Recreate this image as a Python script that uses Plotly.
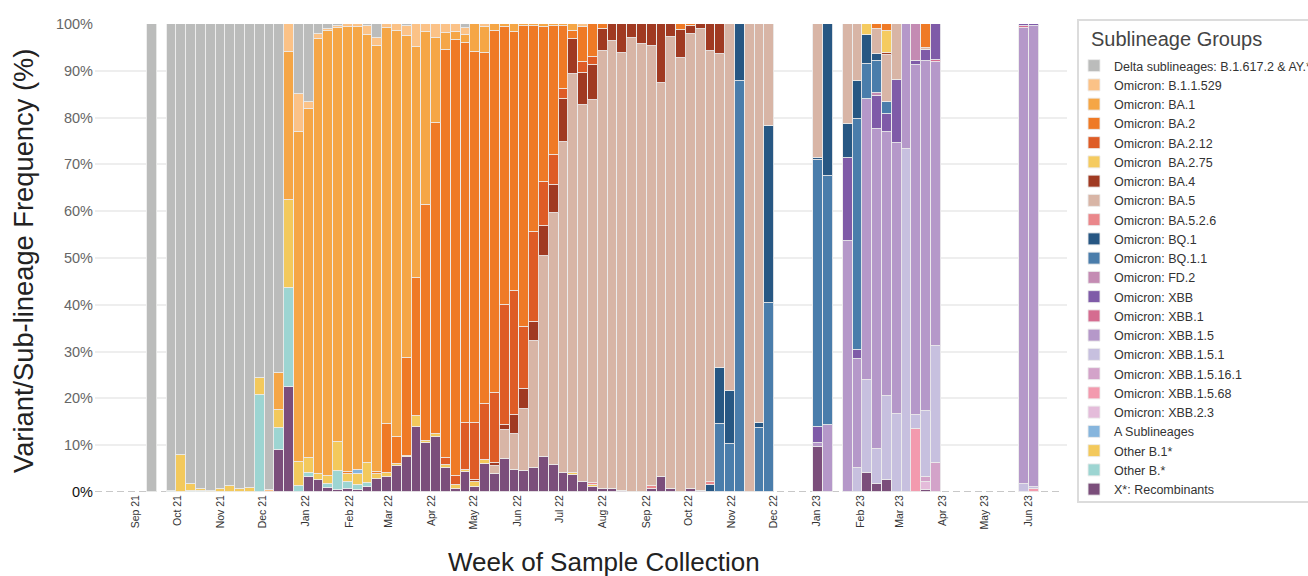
import plotly.graph_objects as go
from datetime import datetime, timedelta

# ---------------- data ----------------
weeks = [
    "2021-09-13",
    "2021-09-27", "2021-10-04", "2021-10-11", "2021-10-18", "2021-10-25", "2021-11-01", "2021-11-08",
    "2021-11-15", "2021-11-22", "2021-11-29", "2021-12-06", "2021-12-13", "2021-12-20", "2021-12-27",
    "2022-01-03", "2022-01-10", "2022-01-17", "2022-01-24", "2022-01-31", "2022-02-07", "2022-02-14",
    "2022-02-21", "2022-02-28", "2022-03-07", "2022-03-14", "2022-03-21", "2022-03-28", "2022-04-04",
    "2022-04-11", "2022-04-18", "2022-04-25", "2022-05-02", "2022-05-09", "2022-05-16", "2022-05-23",
    "2022-05-30", "2022-06-06", "2022-06-13", "2022-06-20", "2022-06-27", "2022-07-04", "2022-07-11",
    "2022-07-18", "2022-07-25", "2022-08-01", "2022-08-08", "2022-08-15", "2022-08-22", "2022-08-29",
    "2022-09-05", "2022-09-12", "2022-09-19", "2022-09-26", "2022-10-03", "2022-10-10", "2022-10-17",
    "2022-10-24", "2022-10-31", "2022-11-07", "2022-11-14", "2022-11-21", "2022-11-28",
    "2023-01-02", "2023-01-09", "2023-01-23", "2023-01-30", "2023-02-06", "2023-02-13", "2023-02-20",
    "2023-02-27", "2023-03-06", "2023-03-13", "2023-03-20", "2023-03-27", "2023-05-29", "2023-06-05",
]

delta = [100, 99.7, 92.1, 98.3, 99.3, 99.7, 99.4, 98.8, 99.4, 99.2,
         75.6, 99.5, 74.5, 0, 14.9, 16.7, 2.1, 1.0, 0.5, 0,
         0, 0.4, 3.0, 0, 0, 0.4, 0, 0, 0, 0,
         0, 0.9, 0, 0, 0, 0, 0, 0, 0, 0,
         0, 0, 0, 0, 0, 0, 0, 0, 0, 0,
         0, 0, 0, 0, 0, 0, 0, 0, 0, 0,
         0, 0, 0, 0, 0, 0, 0, 0, 0, 0,
         0, 0, 0, 0, 0, 0, 0]
b_1_1_529 = [0, 0, 0, 0, 0, 0, 0, 0, 0, 0,
             0, 0.5, 0, 6.0, 8.2, 1.5, 1.0, 0.6, 0.4, 0.7,
             0.7, 2.0, 1.6, 0.9, 1.6, 2.2, 5.0, 1.8, 2.9, 1.9,
             1.7, 1.5, 0, 0.7, 0, 0, 0, 0, 0, 0,
             0, 0, 0, 0.6, 0, 0, 0, 0, 0, 0,
             0, 0, 0, 0, 0, 0, 0, 0, 0, 0,
             0, 0, 0, 0, 0, 0, 0, 0, 0, 0,
             0, 0, 0, 0, 0, 0, 0]
ba_1 = [0, 0, 0, 0, 0, 0, 0, 0, 0, 0,
        0, 0, 7.9, 31.7, 70.5, 74.5, 93.1, 94.9, 88.4, 95.1,
        94.6, 91.3, 91.1, 84.6, 86.7, 68.7, 49.2, 36.9, 18.3, 3.7,
        1.8, 1.6, 6.0, 5.5, 1.4, 0.6, 1.7, 0.5, 0.5, 0.6,
        0.5, 0.5, 1.4, 0, 0, 0, 0, 0, 0, 0,
        0, 0, 0, 0, 0, 0, 0, 0, 0, 0,
        0, 0, 0, 0, 0, 0, 0, 0, 0, 0,
        0, 0, 0, 0, 0, 0, 0]
ba_2 = [0, 0, 0, 0, 0, 0, 0, 0, 0, 0,
        0, 0, 0, 0, 0, 0, 0, 0, 0, 0.3,
        0, 0, 0.5, 10.5, 5.8, 20.9, 29.6, 50.3, 66.5, 87.2,
        93.1, 81.3, 79.2, 75.0, 77.5, 59.4, 55.4, 64.3, 43.9, 33.2,
        27.5, 13.4, 1.8, 7.5, 7.0, 1.1, 0, 0, 0, 0,
        0, 0, 0, 1.2, 0.5, 0, 0, 0, 0, 0,
        0, 0, 0, 0, 0, 0, 0, 0, 1.1, 1.4,
        0, 0, 0, 5.1, 0, 0, 0]
ba_2_12 = [0, 0, 0, 0, 0, 0, 0, 0, 0, 0,
           0, 0, 0, 0, 0, 0, 0, 0, 0, 0,
           0, 0, 0, 0, 0, 0, 0, 0, 0, 1.4,
           1.8, 9.9, 12.2, 12.0, 15.0, 25.7, 26.5, 13.1, 19.2, 9.4,
           6.4, 2.1, 0, 2.4, 1.8, 0, 0, 0, 0, 0,
           0, 0, 0, 0, 0, 0, 0, 0, 0, 0,
           0, 0, 0, 0, 0, 0, 0, 0, 0, 0,
           0, 0, 0, 0, 0, 0, 0]
ba_2_75 = [0, 0, 0, 0, 0, 0, 0, 0, 0, 0,
           0, 0, 0, 0, 0, 0, 0, 0, 0, 0,
           0, 0, 0, 0, 0, 0, 0, 0, 0, 0,
           0, 0, 0, 0, 0, 0, 0, 0, 0, 0,
           0, 0, 0, 0, 0, 0, 0, 0, 0, 0,
           0, 0, 0, 0, 0, 0, 0, 0, 0, 0,
           0, 0, 0, 0, 0, 0, 0, 2.4, 0, 4.8,
           0, 0, 0, 0, 0, 0, 0]
ba_4 = [0, 0, 0, 0, 0, 0, 0, 0, 0, 0,
        0, 0, 0, 0, 0, 0, 0, 0, 0, 0,
        0, 0, 0, 0, 0, 0, 0, 0, 0, 0,
        0, 0, 0.4, 0, 0.5, 1.1, 3.9, 4.4, 4.2, 6.4,
        6.0, 9.3, 7.4, 6.9, 7.5, 4.7, 3.7, 6.2, 3.0, 4.2,
        4.8, 12.5, 2.8, 6.1, 1.6, 1.0, 5.8, 6.5, 0, 0,
        0, 0, 0, 0, 0, 0, 0, 0, 0, 0.5,
        0, 0, 0, 0, 0, 0, 0]
ba_5 = [0, 0, 0, 0, 0, 0, 0, 0, 0, 0,
        0, 0, 0, 0, 0, 0, 0, 0, 0, 0,
        0, 0, 0, 0, 0, 0, 0, 0, 0, 0,
        0, 0, 0, 0, 1.7, 6.2, 7.7, 13.3, 27.1, 42.9,
        53.9, 70.6, 85.3, 80.5, 81.8, 93.6, 95.7, 93.5, 97.0, 95.8,
        94.0, 84.4, 96.6, 92.7, 97.3, 98.7, 92.0, 67.1, 78.4, 0,
        100, 85.2, 21.7, 28.6, 0, 21.4, 12.1, 0, 5.3, 10.0,
        11.9, 0, 0, 0.4, 0, 0, 0]
ba_5_2_6 = [0, 0, 0, 0, 0, 0, 0, 0, 0, 0,
            0, 0, 0, 0, 0, 0, 0, 0, 0, 0,
            0, 0, 0, 0, 0, 0, 0, 0, 0, 0,
            0, 0, 0, 0, 0, 0, 0, 0, 0, 0,
            0, 0, 0, 0, 0.4, 0, 0, 0, 0, 0,
            0.5, 0, 0, 0, 0, 0, 0.8, 0, 0, 0,
            0, 0, 0, 0, 0, 0, 0, 0, 0, 0,
            0, 0, 0, 0, 0, 0, 0]
bq_1 = [0, 0, 0, 0, 0, 0, 0, 0, 0, 0,
        0, 0, 0, 0, 0, 0, 0, 0, 0, 0,
        0, 0, 0, 0, 0, 0, 0, 0, 0, 0,
        0, 0, 0, 0, 0, 0, 0, 0, 0, 0,
        0, 0, 0, 0, 0, 0, 0, 0, 0, 0,
        0, 0, 0, 0, 0, 0, 1.4, 11.9, 11.4, 12.2,
        0, 1.2, 38.0, 0.4, 32.4, 7.2, 8.2, 6.1, 1.4, 0,
        0, 0, 0, 0, 0, 0, 0]
bq_1_1 = [0, 0, 0, 0, 0, 0, 0, 0, 0, 0,
          0, 0, 0, 0, 0, 0, 0, 0, 0, 0,
          0, 0, 0, 0, 0, 0, 0, 0, 0, 0,
          0, 0, 0, 0, 0, 0, 0, 0, 0, 0,
          0, 0, 0, 0, 0, 0, 0, 0, 0, 0,
          0, 0, 0, 0, 0, 0, 0, 14.5, 10.2, 87.8,
          0, 13.6, 40.3, 57.2, 53.3, 0, 49.4, 7.5, 6.9, 2.5,
          0, 0, 0, 0, 0, 0, 0]
fd_2 = [0] * 68 + [0.7, 0, 0, 0, 8.0, 0, 0, 0, 0]
xbb = [0] * 60 + [0, 0, 0, 3.3, 0, 17.7, 1.9, 0, 7.0, 3.9,
                  13.5, 0, 0.7, 2.3, 7.6, 0.4, 0.4]
xbb_1 = [0] * 70 + [0, 0, 0, 0, 0.6, 0.4, 0]
xbb_1_5 = [0] * 60 + [0, 0, 0, 0.8, 14.3, 53.7, 23.3, 60.1, 68.5, 56.4,
                      58.0, 26.8, 74.9, 74.9, 60.6, 97.5, 98.6]
xbb_1_5_1 = [0] * 60 + [0, 0, 0, 0, 0, 0, 5.1, 19.8, 7.4, 17.9,
                        16.6, 73.2, 2.9, 14.2, 24.9, 1.7, 0.4]
xbb_1_5_16_1 = [0] * 70 + [0, 0, 0, 1.0, 6.3, 0, 0]
xbb_1_5_68 = [0] * 70 + [0, 0, 13.5, 0, 0, 0, 0.6]
xbb_2_3 = [0] * 70 + [0, 0, 0, 1.7, 0, 0, 0]
a_sub = [0] * 20 + [0.9] + [0] * 56
other_b1 = [0, 0, 7.9, 1.4, 0.5, 0.3, 0.6, 1.2, 0.6, 0.8,
            3.7, 0, 4.0, 18.7, 5.1, 3.2, 1.2, 1.8, 6.3, 1.8,
            2.2, 4.3, 1.0, 0.9, 0.3, 0.4, 2.4, 0.6, 0.5, 0.6,
            1.0, 0.6, 1.1, 0.8, 0, 0, 0, 0, 0, 0,
            0, 0, 0.4, 0, 0.5, 0, 0, 0, 0, 0,
            0, 0, 0, 0, 0, 0, 0, 0, 0, 0,
            0, 0, 0, 0, 0, 0, 0, 0, 0, 0,
            0, 0, 0, 0, 0, 0, 0]
other_b = [0, 0.3, 0, 0.3, 0.2, 0, 0, 0, 0, 0,
           20.7, 0, 4.6, 21.2, 1.3, 0.8, 0, 0.9, 4.0, 1.5,
           1.2, 0.9, 0, 0, 0, 0, 0, 0, 0, 0,
           0, 0, 0, 0, 0, 0, 0, 0, 0, 0,
           0, 0, 0, 0, 0, 0, 0, 0, 0, 0,
           0, 0, 0, 0, 0, 0, 0, 0, 0, 0,
           0, 0, 0, 0, 0, 0, 0, 0, 0, 0,
           0, 0, 0, 0, 0, 0, 0]
recomb = [0, 0, 0, 0, 0, 0, 0, 0, 0, 0,
          0, 0, 9.0, 22.4, 0, 3.3, 2.6, 0.8, 0.4, 0.6,
          0.4, 1.1, 2.8, 3.1, 5.6, 7.4, 13.8, 10.4, 11.8, 5.2,
          0.6, 4.2, 1.1, 6.0, 3.9, 7.0, 4.8, 4.4, 5.1, 7.5,
          5.7, 4.1, 3.7, 2.1, 1.0, 0.6, 0.6, 0.3, 0, 0,
          0.7, 3.1, 0.6, 0, 0.6, 0.3, 0, 0, 0, 0,
          0, 0, 0, 9.7, 0, 0, 0, 4.1, 1.7, 2.6,
          0, 0, 0, 0.4, 0, 0, 0]

# stacking order: bottom first
series = [
    ("X*: Recombinants", recomb, "#7B4E7B"),
    ("Other B.*", other_b, "#9DD5D2"),
    ("Other B.1*", other_b1, "#F3C95C"),
    ("A Sublineages", a_sub, "#86B5DD"),
    ("Omicron: XBB.2.3", xbb_2_3, "#E4BCDA"),
    ("Omicron: XBB.1.5.68", xbb_1_5_68, "#F39AAE"),
    ("Omicron: XBB.1.5.16.1", xbb_1_5_16_1, "#D3A3C9"),
    ("Omicron: XBB.1.5.1", xbb_1_5_1, "#C7C0DF"),
    ("Omicron: XBB.1.5", xbb_1_5, "#B598C9"),
    ("Omicron: XBB.1", xbb_1, "#D56C90"),
    ("Omicron: XBB", xbb, "#7F5BA8"),
    ("Omicron: FD.2", fd_2, "#C48BB3"),
    ("Omicron: BQ.1.1", bq_1_1, "#4A7DAB"),
    ("Omicron: BQ.1", bq_1, "#275783"),
    ("Omicron: BA.5.2.6", ba_5_2_6, "#EA878B"),
    ("Omicron: BA.5", ba_5, "#D8B5A6"),
    ("Omicron: BA.4", ba_4, "#A03A22"),
    ("Omicron  BA.2.75", ba_2_75, "#F5CB60"),
    ("Omicron: BA.2.12", ba_2_12, "#DE5C26"),
    ("Omicron: BA.2", ba_2, "#EF7A26"),
    ("Omicron: BA.1", ba_1, "#F5A646"),
    ("Omicron: B.1.1.529", b_1_1_529, "#FBC287"),
    ("Delta sublineages: B.1.617.2 & AY.*", delta, "#BBBCBB"),
]

y_ticks = [0, 10, 20, 30, 40, 50, 60, 70, 80, 90, 100]

# ---------------- figure ----------------
fig = go.Figure()
for name, vals, color in series:
    fig.add_trace(go.Bar(
        x=weeks,
        y=[v if v else None for v in vals],
        name=name,
        marker=dict(color=color, line=dict(color="rgba(236,236,236,0.9)", width=1)),
    ))

W, H = 1308, 576
L, R, T, B = 95, 241, 24, 84
plot_w = W - L - R
plot_h = H - T - B
px_per_day = 9.8 / 7.0
first = datetime(2021, 9, 13)
r0 = first - timedelta(days=(151.9 - L) / px_per_day)
r1 = r0 + timedelta(days=plot_w / px_per_day)


def px_x(px):
    return (px - L) / plot_w


def px_y(py):
    return (H - B - py) / plot_h


FONT = "Liberation Sans, Arial, Helvetica, sans-serif"

fig.update_layout(
    width=W, height=H,
    margin=dict(l=L, r=R, t=T, b=B, autoexpand=False),
    paper_bgcolor="white", plot_bgcolor="white",
    barmode="stack", bargap=0,
    font=dict(family=FONT, color="#333"),
    xaxis=dict(
        type="date", range=[r0, r1],
        tick0="2021-09-01", dtick="M1", tickformat="%b %y",
        tickangle=-90, tickfont=dict(size=10.5, color="#333"),
        showgrid=False, showline=False, zeroline=False, ticks="",
    ),
    yaxis=dict(
        range=[0, 100], tickvals=y_ticks,
        ticktext=["<span style='color:#111'>0%</span>"] + [f"{v}%" for v in y_ticks[1:]],
        tickfont=dict(size=14.5, color="#666"),
        gridcolor="#EEEEEE", gridwidth=1.5, zeroline=False, showline=False, ticks="",
        ticklabelstandoff=1,
    ),
    legend=dict(
        font=dict(size=12.5, color="#333"),
        traceorder="reversed",
        x=px_x(1074), xanchor="left",
        y=px_y(51), yanchor="top",
        borderwidth=0, bgcolor="rgba(0,0,0,0)",
        maxheight=700,
    ),
    shapes=[
        dict(type="line", xref="paper", yref="y", x0=0, x1=0.995, y0=0, y1=0,
             line=dict(color="#C8C8C8", width=2, dash="7px,4px"), layer="below"),
        dict(type="rect", xref="paper", yref="paper",
             x0=px_x(1078), x1=px_x(1330), y0=px_y(502), y1=px_y(20),
             line=dict(color="#DCDCDC", width=2), fillcolor="rgba(0,0,0,0)", layer="above"),
    ],
    annotations=[
        dict(text="Week of Sample Collection", xref="paper", yref="paper",
             x=px_x(604), y=px_y(562),
             xanchor="center", yanchor="middle", showarrow=False,
             font=dict(size=26, color="#222")),
        dict(text="Variant/Sub-lineage Frequency (%)", xref="paper", yref="paper",
             x=px_x(23), y=px_y(261),
             xanchor="center", yanchor="middle", showarrow=False, textangle=-90,
             font=dict(size=27.3, color="#222")),
        dict(text="Sublineage Groups", xref="paper", yref="paper",
             x=px_x(1089), y=px_y(39),
             xanchor="left", yanchor="middle", showarrow=False,
             font=dict(size=20, color="#444")),
    ],
)

fig.write_html("out.html")
